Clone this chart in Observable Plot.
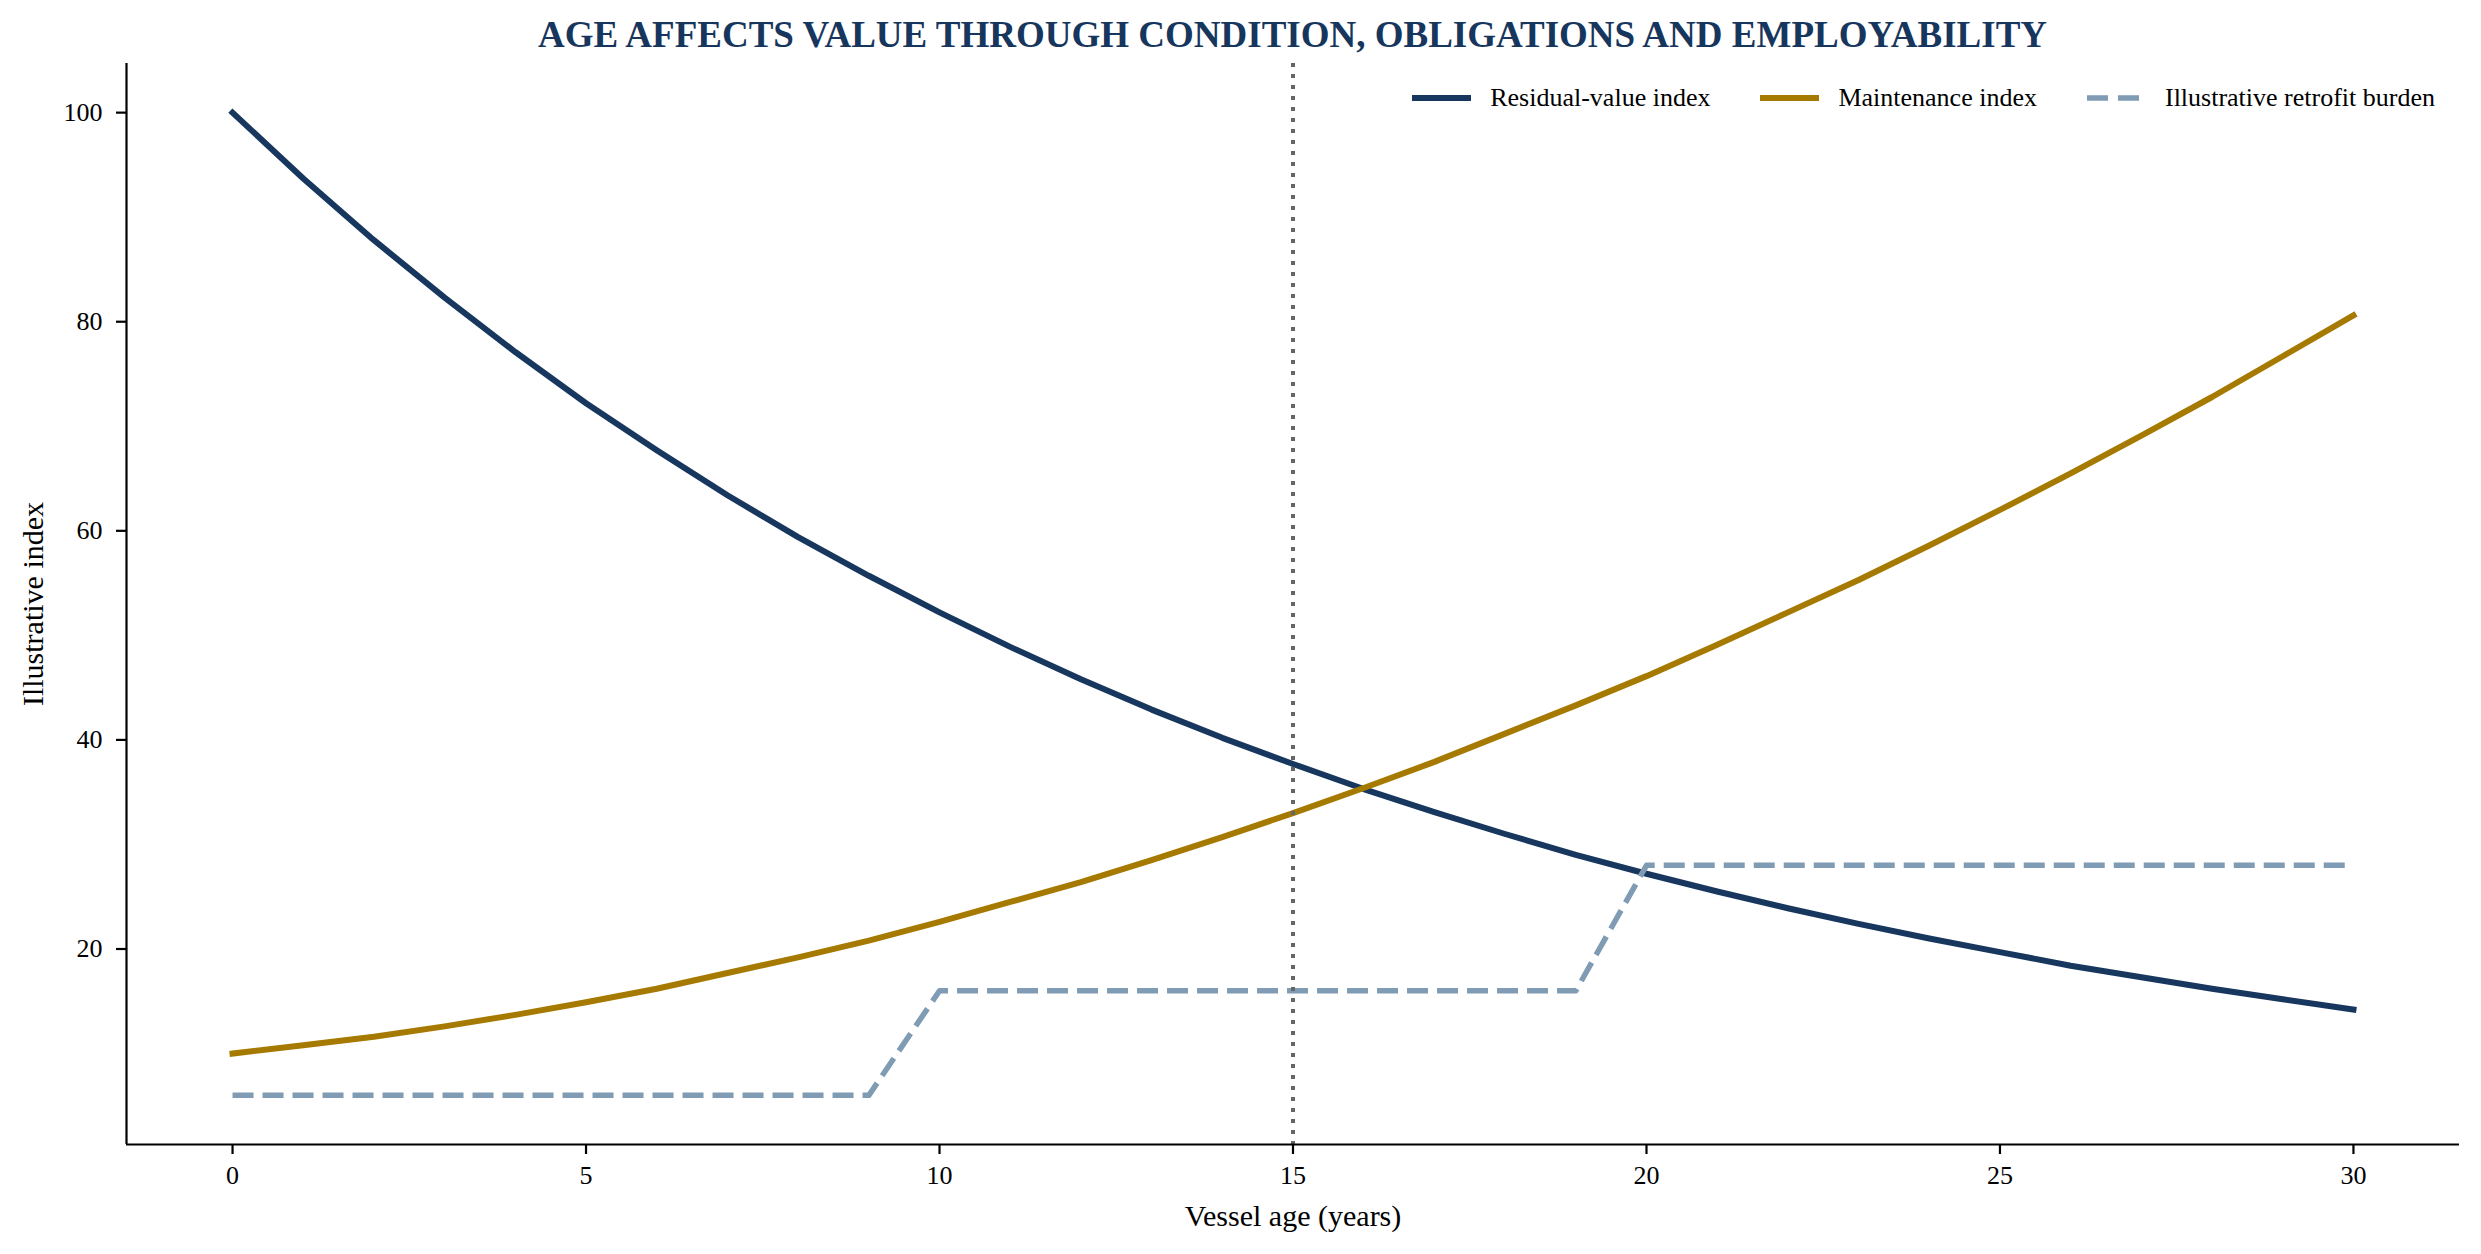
<!DOCTYPE html>
<html><head><meta charset="utf-8">
<script src="https://cdn.jsdelivr.net/npm/d3@7"></script>
<script src="https://cdn.jsdelivr.net/npm/@observablehq/plot@0.6"></script>
<style>
html,body{margin:0;padding:0;background:#fff;}
#wrap{position:relative;width:2481px;height:1254px;font-family:"Liberation Serif","Times New Roman",serif;}
#title{position:absolute;left:126px;width:2333px;top:16px;text-align:center;font-size:37px;font-weight:bold;line-height:37px;color:#17365d;z-index:2;}
#legend{position:absolute;right:46px;top:84px;display:flex;align-items:center;gap:50px;font-size:26px;line-height:28px;color:#000;z-index:2;}
.item{display:flex;align-items:center;}
.item svg{margin-right:19px;display:block;}
#chart{position:absolute;left:0;top:0;}
</style></head>
<body>
<div id="wrap"><div id="chart"></div><div id="title"></div><div id="legend"></div></div>
<script>
// ---- data ----
const titleText = "AGE AFFECTS VALUE THROUGH CONDITION, OBLIGATIONS AND EMPLOYABILITY";
const xLabel = "Vessel age (years)";
const yLabel = "Illustrative index";
const ages = [0,1,2,3,4,5,6,7,8,9,10,11,12,13,14,15,16,17,18,19,20,21,22,23,24,25,26,27,28,29,30];
const residualValue = [100.0,93.7,87.8,82.3,77.1,72.2,67.7,63.4,59.4,55.7,52.2,48.9,45.8,42.9,40.2,37.7,35.3,33.1,31.0,29.0,27.2,25.5,23.9,22.4,21.0,19.7,18.4,17.3,16.2,15.2,14.2];
const maintenance = [10.0,10.8,11.6,12.6,13.7,14.9,16.2,17.7,19.2,20.8,22.6,24.5,26.4,28.5,30.7,33.0,35.4,37.9,40.6,43.3,46.1,49.1,52.2,55.3,58.6,62.0,65.5,69.1,72.8,76.7,80.6];
const retrofit = [6,6,6,6,6,6,6,6,6,6,16,16,16,16,16,16,16,16,16,16,28,28,28,28,28,28,28,28,28,28,28];
const seriesNames = ["Residual-value index","Maintenance index","Illustrative retrofit burden"];
const markerAge = [15];
const xTicks = [0,5,10,15,20,25,30];
const yTicks = [20,40,60,80,100];
const xDomain = [-1.5,31.5];
const yDomain = [1.3,104.7];

const colors = {res:"#17375e", maint:"#a67a00", retro:"#7f9cb4", marker:"#666666", title:"#17365d"};
const font = '"Liberation Serif","Times New Roman",serif';

const table = ages.map((a,i)=>({age:a, residual:residualValue[i], maintenance:maintenance[i], retrofit:retrofit[i]}));

const chart = Plot.plot({
  width: 2481, height: 1254,
  marginLeft: 126, marginRight: 22, marginTop: 63, marginBottom: 110,
  style: {fontFamily: font, fontSize: "26px", color: "#000", background: "transparent", overflow: "visible"},
  x: {domain: xDomain},
  y: {domain: yDomain},
  marks: [
    Plot.line(table, {x:"age", y:"residual", stroke:colors.res, strokeWidth:6, strokeLinecap:"square", strokeLinejoin:"round"}),
    Plot.line(table, {x:"age", y:"maintenance", stroke:colors.maint, strokeWidth:6, strokeLinecap:"square", strokeLinejoin:"round"}),
    Plot.line(table, {x:"age", y:"retrofit", stroke:colors.retro, strokeWidth:5.5, strokeDasharray:"21,9", strokeLinecap:"butt", strokeLinejoin:"round"}),
    Plot.ruleX(markerAge, {stroke:colors.marker, strokeWidth:4, strokeDasharray:"4,7"}),
    Plot.ruleY([yDomain[0]], {stroke:"#000", strokeWidth:2.2}),
    Plot.ruleX([xDomain[0]], {stroke:"#000", strokeWidth:2.2}),
    Plot.axisX(xTicks, {tickSize:10, tickPadding:11, strokeWidth:2.2, label:null, fontSize:26}),
    Plot.axisY(yTicks, {tickSize:10, tickPadding:14, strokeWidth:2.2, label:null, fontSize:26}),
    Plot.axisX([], {label:xLabel, labelArrow:"none", labelAnchor:"center", labelOffset:81, fontSize:30, tickSize:0}),
    Plot.axisY([], {label:yLabel, labelArrow:"none", labelAnchor:"center", labelOffset:105, fontSize:30, tickSize:0})
  ]
});
document.getElementById("chart").appendChild(chart);
document.getElementById("title").textContent = titleText;

const legend = document.getElementById("legend");
const swatches = [
  {color:colors.res, dash:null, w:6},
  {color:colors.maint, dash:null, w:6},
  {color:colors.retro, dash:"21,10", w:5.5}
];
seriesNames.forEach((name,i)=>{
  const item = document.createElement("div");
  item.className = "item";
  const s = swatches[i];
  item.innerHTML = `<svg width="59" height="10"><line x1="0" x2="59" y1="5" y2="5" stroke="${s.color}" stroke-width="${s.w}" ${s.dash?`stroke-dasharray="${s.dash}"`:""}/></svg><span>${name}</span>`;
  legend.appendChild(item);
});
</script>
</body></html>
